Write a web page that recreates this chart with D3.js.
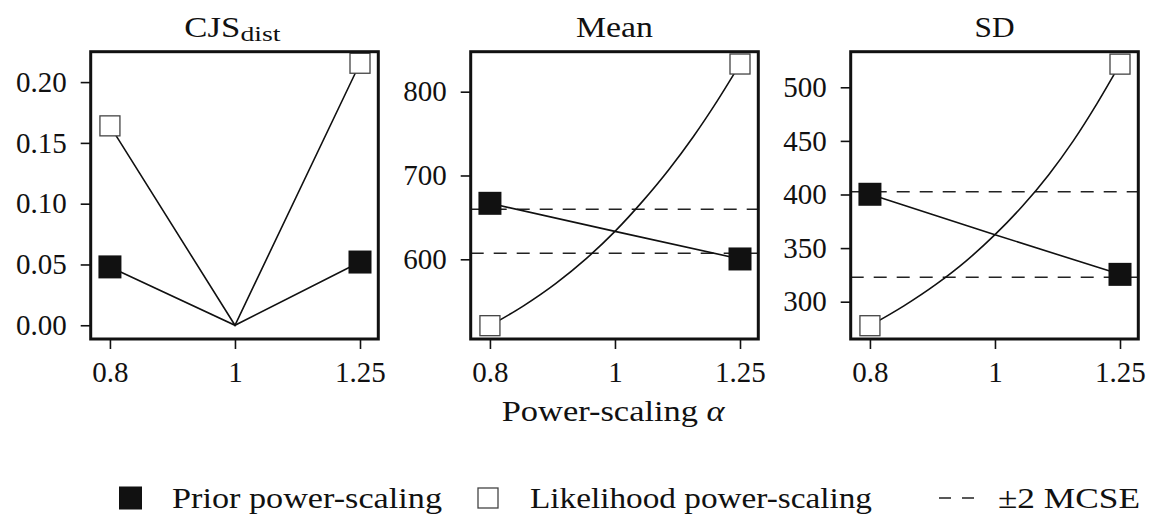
<!DOCTYPE html>
<html>
<head>
<meta charset="utf-8">
<script src="https://cdn.jsdelivr.net/npm/d3@7"></script>
<style>
  html, body { margin: 0; padding: 0; background: #fff; }
  svg { display: block; }
  text { font-family: "Liberation Serif", "DejaVu Serif", serif; fill: #111; }
</style>
</head>
<body>
<svg id="chart" width="1151" height="518"></svg>
<script>
// ---------------- data ----------------
const alphaPoints = [0.8, 1, 1.25];
const alphaGrid = [0.8, 0.85, 0.9, 0.95, 1, 1.05, 1.1, 1.15, 1.2, 1.25];
const xTicks = [0.8, 1, 1.25];
const xTickLabels = ["0.8", "1", "1.25"];

const cjsPrior = [0.048, 0, 0.052];
const cjsLik = [0.164, 0, 0.2155];

const meanPrior = [666.8, 633.3, 600.4];
const meanLik = [520.8, 544.8, 571.3, 600.8, 633.3, 668.8, 706.3, 746.3, 788.8, 833.0];
const meanMcse = [607.2, 659.7];

const sdPrior = [400.2, 362.5, 325.5];
const sdLik = [277.6, 296.1, 316.1, 338.1, 362.5, 389.0, 418.0, 450.0, 485.0, 521.6];
const sdMcse = [322.8, 402.6];

const cjsTicks = [0, 0.05, 0.10, 0.15, 0.20];
const meanTicks = [600, 700, 800];
const sdTicks = [300, 350, 400, 450, 500];

const panelTitles = ["CJS", "Mean", "SD"];
const legendLabels = ["Prior power-scaling", "Likelihood power-scaling", "\u00b12 MCSE"];
const xAxisTitle = "Power-scaling ";

// ---------------- layout ----------------
const svg = d3.select("#chart");
const yTop = 51.7, yBottom = 339, pw = 287.6, step = 380;
const lefts = [90.7, 90.7 + step, 90.7 + 2 * step];
const xDomain = [0.773, 1.2915];
const ink = "#111";

const panels = [
  { title: panelTitles[0], sub: "dist", yDomain: [-0.0113, 0.225], ticks: cjsTicks, fmt: d3.format(".2f"),
    priorX: alphaPoints, prior: cjsPrior, likX: alphaPoints, lik: cjsLik, mcse: null },
  { title: panelTitles[1], yDomain: [504.9, 847.7], ticks: meanTicks, fmt: d3.format("d"),
    priorX: alphaPoints, prior: meanPrior, likX: alphaGrid, lik: meanLik, mcse: meanMcse },
  { title: panelTitles[2], yDomain: [265.2, 533.2], ticks: sdTicks, fmt: d3.format("d"),
    priorX: alphaPoints, prior: sdPrior, likX: alphaGrid, lik: sdLik, mcse: sdMcse }
];

function fitText(sel, w) {
  sel.attr("textLength", w).attr("lengthAdjust", "spacingAndGlyphs");
  return sel;
}

panels.forEach((p, i) => {
  const x0 = lefts[i], x1 = x0 + pw;
  const x = d3.scaleLog().domain(xDomain).range([x0, x1]);
  const y = d3.scaleLinear().domain(p.yDomain).range([yBottom, yTop]);
  const g = svg.append("g");

  // axes
  const ya = g.append("g").attr("transform", `translate(${x0},0)`)
    .call(d3.axisLeft(y).tickValues(p.ticks).tickFormat(p.fmt).tickSize(10).tickSizeOuter(0).tickPadding(14));
  const xa = g.append("g").attr("transform", `translate(0,${yBottom})`)
    .call(d3.axisBottom(x).tickValues(xTicks).tickFormat((d, k) => xTickLabels[k]).tickSize(10).tickSizeOuter(0).tickPadding(12));
  [ya, xa].forEach(a => {
    a.select(".domain").remove();
    a.selectAll("line").attr("stroke", ink).attr("stroke-width", 1.6);
    a.selectAll("text").attr("font-size", 29).attr("font-family", "Liberation Serif").attr("fill", ink);
  });

  // clip
  const cid = "clip" + i;
  svg.append("clipPath").attr("id", cid).append("rect")
    .attr("x", x0).attr("y", yTop).attr("width", pw).attr("height", yBottom - yTop);
  const pg = g.append("g").attr("clip-path", `url(#${cid})`);

  // MCSE dashed lines
  if (p.mcse) {
    p.mcse.forEach(v => {
      pg.append("line").attr("x1", x0).attr("x2", x1).attr("y1", y(v)).attr("y2", y(v))
        .attr("stroke", "#222").attr("stroke-width", 1.6).attr("stroke-dasharray", "13,10");
    });
  }

  const line = d3.line().x(d => x(d[0])).y(d => y(d[1]));
  const lineCurve = d3.line().x(d => x(d[0])).y(d => y(d[1])).curve(d3.curveMonotoneX);

  pg.append("path").attr("d", line(p.priorX.map((a, k) => [a, p.prior[k]])))
    .attr("fill", "none").attr("stroke", ink).attr("stroke-width", 1.6);
  pg.append("path").attr("d", (p.likX.length > 3 ? lineCurve : line)(p.likX.map((a, k) => [a, p.lik[k]])))
    .attr("fill", "none").attr("stroke", ink).attr("stroke-width", 1.6);

  // markers at 0.8 and 1.25
  const endIdx = (arr) => [0, arr.length - 1];
  endIdx(p.likX).forEach(k => {
    const s = 20;
    g.append("rect").attr("x", x(p.likX[k]) - s / 2).attr("y", y(p.lik[k]) - s / 2)
      .attr("width", s).attr("height", s).attr("fill", "#fff").attr("stroke", "#444").attr("stroke-width", 1.3);
  });
  endIdx(p.priorX).forEach(k => {
    const s = 23;
    g.append("rect").attr("x", x(p.priorX[k]) - s / 2).attr("y", y(p.prior[k]) - s / 2)
      .attr("width", s).attr("height", s).attr("fill", ink);
  });

  // frame
  g.append("rect").attr("x", x0).attr("y", yTop).attr("width", pw).attr("height", yBottom - yTop)
    .attr("fill", "none").attr("stroke", ink).attr("stroke-width", 3);

  // title
  const cx = x0 + pw / 2;
  if (p.sub) {
    fitText(g.append("text").attr("x", 184.3).attr("y", 36.7).attr("font-size", 30).text(p.title), 56);
    fitText(g.append("text").attr("x", 240.5).attr("y", 40.5).attr("font-size", 21).text(p.sub), 40);
  } else {
    const t = g.append("text").attr("x", cx).attr("y", 36.7).attr("font-size", 30)
      .attr("text-anchor", "middle").text(p.title);
    fitText(t, i === 1 ? 77 : 40);
  }
});

// x axis title
const xt = svg.append("text").attr("x", 501.7).attr("y", 421).attr("font-size", 30);
xt.append("tspan").text(xAxisTitle);
xt.append("tspan").attr("font-style", "italic").text("\u03b1");
fitText(xt, 223);

// legend
const ly = 498, lb = 508;
svg.append("rect").attr("x", 119).attr("y", ly - 11.5).attr("width", 23).attr("height", 23).attr("fill", ink);
fitText(svg.append("text").attr("x", 172).attr("y", lb).attr("font-size", 30).text(legendLabels[0]), 270);
svg.append("rect").attr("x", 478).attr("y", ly - 10).attr("width", 20).attr("height", 20)
  .attr("fill", "#fff").attr("stroke", "#444").attr("stroke-width", 1.3);
fitText(svg.append("text").attr("x", 530).attr("y", lb).attr("font-size", 30).text(legendLabels[1]), 342);
svg.append("line").attr("x1", 939).attr("x2", 974).attr("y1", ly).attr("y2", ly)
  .attr("stroke", "#222").attr("stroke-width", 1.6).attr("stroke-dasharray", "12,11");
fitText(svg.append("text").attr("x", 998).attr("y", lb).attr("font-size", 30).text(legendLabels[2]), 142);
</script>
</body>
</html>
